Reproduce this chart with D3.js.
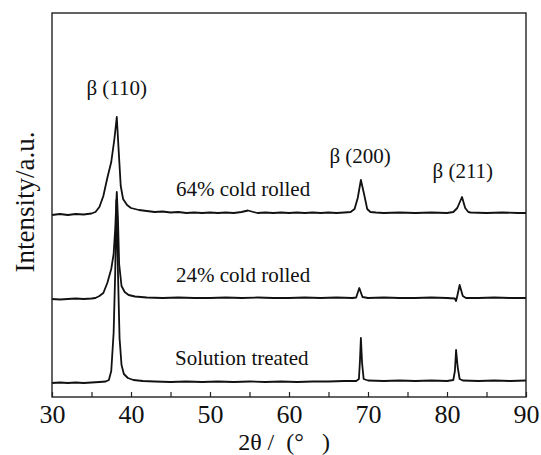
<!DOCTYPE html>
<html>
<head>
<meta charset="utf-8">
<script src="https://cdn.jsdelivr.net/npm/d3@7/dist/d3.min.js"></script>
<style>
  body { margin: 0; background: #fff; }
  svg text { font-family: "Liberation Serif", "DejaVu Serif", serif !important; }
</style>
</head>
<body>
<div id="stage_id"></div>
<script>
// XRD patterns, 2theta (deg) vs intensity (a.u., above each pattern's own baseline)
var solutionTreated = [
  [30,0],[31,0.5],[32,0],[33,0.5],[34,0],[35,0.5],[36,1],[36.8,1.5],[37.2,3],[37.5,12],[37.8,50],
  [38.0,110],[38.15,183],[38.35,110],[38.55,45],[38.8,18],[39.1,9],[39.6,5],[40.3,3],[41.5,2],
  [43,1.5],[45,1],[47,1.5],[49,1],[51,1.5],[53,1],[55,1.5],[57,1],[59,1.5],[61,1],[63,1.5],
  [65,1.5],[67,2],[68.5,2],[68.85,4],[68.98,22],[69.1,45],[69.25,20],[69.45,4],[70,2.5],
  [72,2],[74,2.5],[76,2],[78,2.5],[80,2],[80.8,3],[81.0,12],[81.15,33],[81.35,16],[81.6,4],
  [82,2.5],[84,2],[86,2.5],[88,2],[90,2.5]
];

var coldRolled24 = [
  [30,0],[31,-0.5],[32,0],[33,0.5],[34,0],[35,0.5],[35.5,1],[36,3],[36.5,6],[37,16],[37.5,30],
  [37.8,45],[38.0,70],[38.2,107],[38.35,80],[38.5,35],[38.8,13],[39.2,7],[39.7,4],[40.5,2.5],
  [42,1.5],[44,1],[46,1.5],[48,1],[50,1],[52,1.5],[54,1],[56,1.5],[58,1],[60,1],[62,1.5],
  [64,1],[66,1.5],[68,1],[68.5,1.5],[68.9,11],[69.3,2],[70,1],[72,1.5],[74,1],[76,1],
  [78,1.5],[80,1],[81.0,0.5],[81.15,-2],[81.3,3],[81.6,14],[82.0,3],[82.4,1],[84,1],
  [86,1.5],[88,1],[90,1]
];

var coldRolled64 = [
  [30,-1],[31,0],[32,-1],[33,0],[34,-0.5],[35,0.5],[35.5,2],[36.0,7],[36.5,18],[37.0,36],
  [37.5,52],[37.9,75],[38.2,97],[38.45,62],[38.7,28],[39.0,15],[39.5,9],[40,6],[41,4],[42,3],
  [43,2],[44,2.5],[45,1.5],[46,2],[47,1],[48,1.5],[49,1],[50,1.5],[51,1],[52,1.5],[53,1],
  [54,2],[54.8,3.5],[55.5,2],[56,1],[57,1.5],[58,1],[59,1.5],[60,1],[61,1.5],[62,1],[63,1.5],
  [64,1],[65,1.5],[66,1],[67,1.5],[67.8,2],[68.3,5],[68.7,16],[69.1,34],[69.5,20],[69.9,5],
  [70.3,2],[71,1.5],[72,1],[74,1.5],[76,1],[78,1.5],[80,1],[80.8,2],[81.3,6],[81.9,17],
  [82.3,6],[82.7,2],[83,1.5],[85,1],[87,1.5],[89,1],[90,1]
];

var seriesData = [solutionTreated, coldRolled24, coldRolled64];
var seriesOffsets = [14, 98, 183];
var seriesNames = ["Solution treated", "24% cold rolled", "64% cold rolled"];
var seriesNamePos = [[175, 365], [176, 282], [176, 196]];   // label anchor (px)

var peakNames = ["\u03b2 (110)", "\u03b2 (200)", "\u03b2 (211)"];
var peakAnchors = [[38.2, 95], [69.0, 163], [82.0, 178]];

var xTicks = [30, 35, 40, 45, 50, 55, 60, 65, 70, 75, 80, 85, 90];

var FONT = "Liberation Serif, DejaVu Serif, serif";

var W = 541, H = 455;
var margin = {top: 13, right: 15, bottom: 58, left: 52};
var width = W - margin.left - margin.right;
var height = H - margin.top - margin.bottom;

var svg = d3.select("#stage_id")
  .append("svg")
  .attr("width", W)
  .attr("height", H)
  .attr("font-family", FONT);

var g = svg.append("g")
  .attr("transform", "translate(" + margin.left + "," + margin.top + ")");

var xScale = d3.scaleLinear().domain([30, 90]).range([0, width]);
var yScale = d3.scaleLinear().domain([0, height]).range([height, 0]);

var xAxis = d3.axisBottom(xScale)
  .tickValues(xTicks)
  .tickSizeInner(-5)
  .tickSizeOuter(0)
  .tickPadding(8)
  .tickFormat(function(d){ return d % 10 === 0 ? d : ""; });

var gX = g.append("g")
  .attr("transform", "translate(0," + height + ")")
  .call(xAxis)
  .attr("font-family", FONT)
  .attr("font-size", 26);

gX.select(".domain").remove();
gX.selectAll(".tick line").attr("stroke", "#222").attr("stroke-width", 1.2);
gX.selectAll(".tick text")
  .attr("font-family", FONT)
  .attr("fill", "#111");

// patterns
var line = d3.line()
  .x(function(d){ return xScale(d[0]); })
  .y(function(d){ return yScale(d[1]); });

seriesData.forEach(function(s, i){
  var off = seriesOffsets[i];
  g.append("path")
    .datum(s.map(function(p){ return [p[0], p[1] + off]; }))
    .attr("fill", "none")
    .attr("stroke", "#111")
    .attr("stroke-width", 1.8)
    .attr("stroke-linejoin", "round")
    .attr("d", line);
});

// frame
g.append("rect")
  .attr("width", width)
  .attr("height", height)
  .attr("fill", "none")
  .attr("stroke", "#222")
  .attr("stroke-width", 1.4);

// sample labels
seriesNames.forEach(function(name, i){
  svg.append("text")
    .attr("x", seriesNamePos[i][0])
    .attr("y", seriesNamePos[i][1])
    .attr("font-family", FONT)
    .attr("font-size", 21)
    .attr("fill", "#111")
    .text(name);
});

// peak labels
peakNames.forEach(function(name, i){
  svg.append("text")
    .attr("x", margin.left + xScale(peakAnchors[i][0]))
    .attr("y", peakAnchors[i][1])
    .attr("text-anchor", "middle")
    .attr("font-family", FONT)
    .style("white-space", "pre")
    .attr("font-size", 21)
    .attr("fill", "#111")
    .text(name);
});

// axis titles
svg.append("text")
  .attr("x", 284)
  .attr("y", 450)
  .attr("text-anchor", "middle")
  .attr("font-family", FONT)
  .style("white-space", "pre")
  .attr("font-size", 24)
  .attr("fill", "#111")
  .text("2\u03b8 /  (\u00b0   )");

svg.append("text")
  .attr("transform", "translate(34,202) rotate(-90)")
  .attr("text-anchor", "middle")
  .attr("font-family", FONT)
  .attr("font-size", 27)
  .attr("fill", "#111")
  .text("Intensity/a.u.");
</script>
</body>
</html>
